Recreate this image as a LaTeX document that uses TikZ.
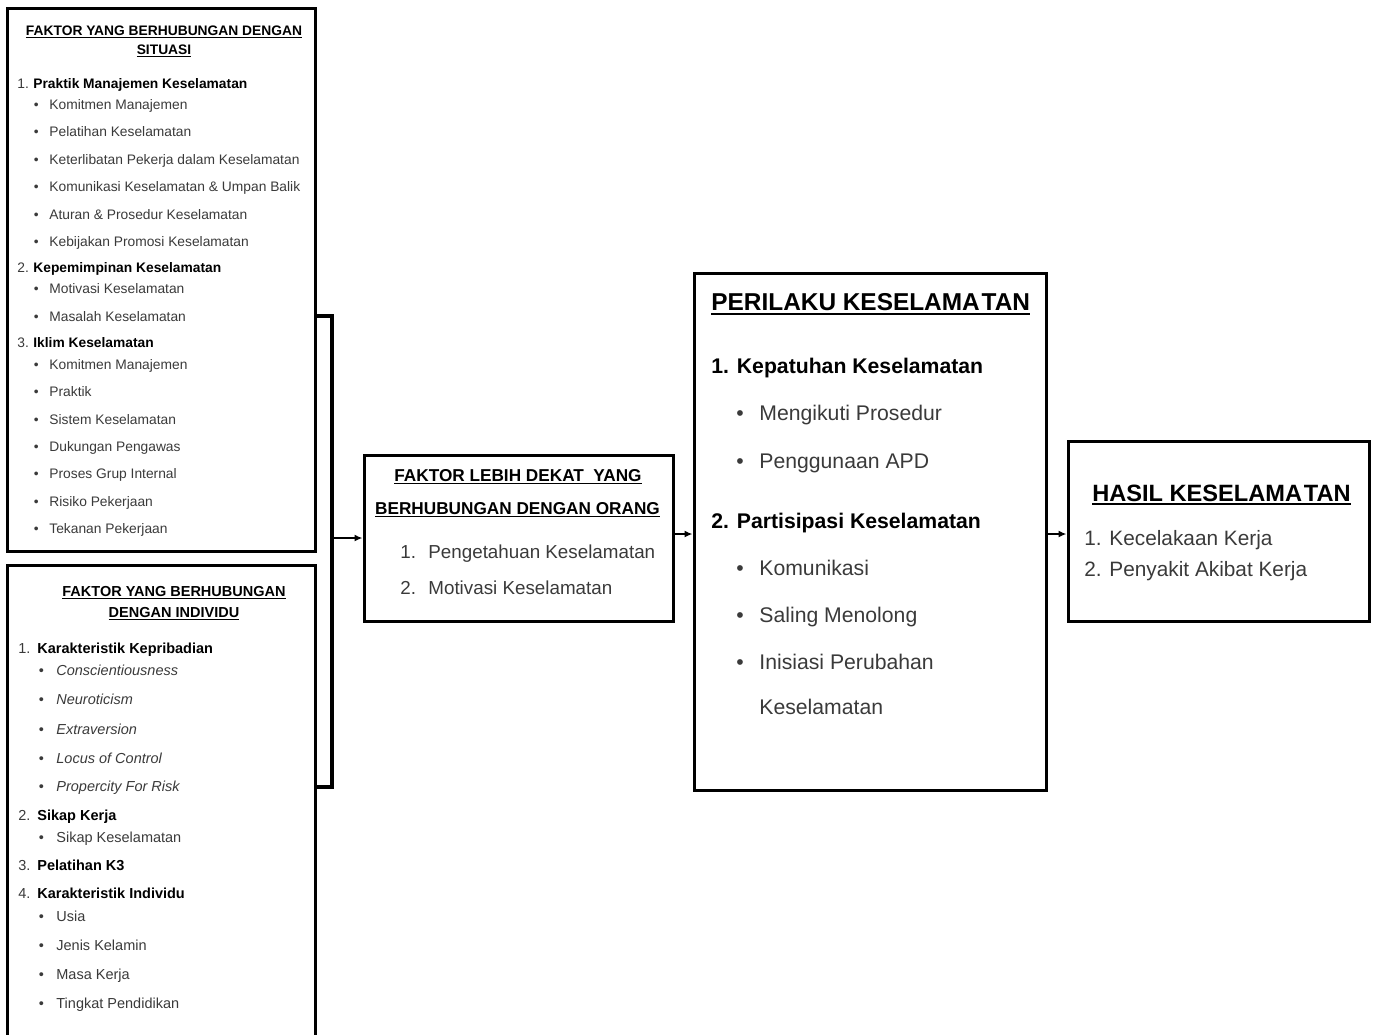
\documentclass[tikz,border=0pt]{standalone}
\usepackage{fontspec}
\setmainfont{Liberation Sans}
\usetikzlibrary{arrows.meta}

\definecolor{itemgray}{HTML}{3A3A3A}

% underlined title text
\newcommand{\ulined}[2][0.45pt]{\leavevmode\setbox0=\hbox{#2}\rlap{\copy0}\rule[-0.16em]{\wd0}{#1}}

% font sizes of the five boxes
\newcommand{\fsA}{\fontsize{6.9}{8}\selectfont}
\newcommand{\fsB}{\fontsize{7.25}{8.5}\selectfont}
\newcommand{\fsC}{\fontsize{9.4}{11}\selectfont}
\newcommand{\fsCt}{\fontsize{8.6}{10}\selectfont}
\newcommand{\fsD}{\fontsize{10.6}{12}\selectfont}
\newcommand{\fsDt}{\fontsize{12.2}{14}\selectfont}
\newcommand{\fsE}{\fontsize{10.4}{12}\selectfont}
\newcommand{\fsEt}{\fontsize{11.8}{14}\selectfont}

\tikzset{
  box/.style={draw, line width=1.5pt, inner sep=0pt},
  line/.style={anchor=west, inner sep=0pt, text depth=0pt, text=itemgray},
  fA/.style={line, font=\fsA, text height=4.9pt},
  hA/.style={fA, font=\fsA\bfseries, text=black},
  fB/.style={line, font=\fsB, text height=5.2pt},
  hB/.style={fB, font=\fsB\bfseries, text=black},
  fC/.style={line, font=\fsC, text height=6.7pt},
  hC/.style={line, font=\fsCt\bfseries, text height=6.2pt, text=black, anchor=center},
  fD/.style={line, font=\fsD, text height=7.6pt},
  hD/.style={fD, font=\fsD\bfseries, text=black},
  tD/.style={line, font=\fsDt\bfseries, text height=8.7pt, text=black},
  fE/.style={line, font=\fsE, text height=7.45pt},
  tE/.style={line, font=\fsEt\bfseries, text height=8.45pt, text=black, anchor=center},
  conn/.style={line width=1pt, -{Latex[length=4pt,width=3.5pt]}}
}

\begin{document}
\begin{tikzpicture}[x=0.5pt, y=-0.5pt]

\useasboundingbox (0,0) rectangle (1375,1034);

% Draw the boxes
\node[box, minimum width=154pt, minimum height=271.5pt] (situasi) at (161,279.5) {};
\node[box, minimum width=154pt, minimum height=242.5pt] (individu) at (161,807.5) {};
\node[box, minimum width=154.5pt, minimum height=83pt] (orang) at (518.5,538) {};
\node[box, minimum width=176pt, minimum height=258.5pt] (perilaku) at (870,531.5) {};
\node[box, minimum width=150.5pt, minimum height=90pt] (hasil) at (1218.5,531) {};

% Situation factors
\node[hA, anchor=center] (titleA1) at (164,31) {\ulined{FAKTOR YANG BERHUBUNGAN DENGAN}};
\node[hA, anchor=center] (titleA2) at (164,50) {\ulined{SITUASI}};
\foreach \y/\n/\t in {84/1/Praktik Manajemen Keselamatan, 268/2/Kepemimpinan Keselamatan, 343/3/Iklim Keselamatan}
{
  \node[fA] (numA\n) at (17,\y) {\n.};
  \node[hA] (headA\n) at (33,\y) {\t};
}
\foreach \y/\t in {105/Komitmen Manajemen, 132/Pelatihan Keselamatan, 160/Keterlibatan Pekerja dalam Keselamatan, 187/Komunikasi Keselamatan \& Umpan Balik, 215/Aturan \& Prosedur Keselamatan, 242/Kebijakan Promosi Keselamatan, 289/Motivasi Keselamatan, 317/Masalah Keselamatan, 365/Komitmen Manajemen, 392/Praktik, 420/Sistem Keselamatan, 447/Dukungan Pengawas, 474/Proses Grup Internal, 502/Risiko Pekerjaan, 529/Tekanan Pekerjaan}
{
  \node[fA] (dotA\y) at (33.5,\y) {\textbullet};
  \node[fA] (itemA\y) at (49,\y) {\t};
}

% Individual factors
\node[hB, anchor=center] (titleB1) at (174,591) {\ulined{FAKTOR YANG BERHUBUNGAN}};
\node[hB, anchor=center] (titleB2) at (174,612) {\ulined{DENGAN INDIVIDU}};
\foreach \y/\n/\t in {648/1/Karakteristik Kepribadian, 815/2/Sikap Kerja, 865/3/Pelatihan K3, 893/4/Karakteristik Individu}
{
  \node[fB] (numB\n) at (18,\y) {\n.};
  \node[hB] (headB\n) at (37,\y) {\t};
}
\foreach \y/\t in {670/Conscientiousness, 699/Neuroticism, 729/Extraversion, 758/Locus of Control, 786/Propercity For Risk}
{
  \node[fB] (dotB\y) at (38.5,\y) {\textbullet};
  \node[fB] (itemB\y) at (56,\y) {\textit{\t}};
}
\foreach \y/\t in {837/Sikap Keselamatan, 916/Usia, 945/Jenis Kelamin, 974/Masa Kerja, 1003/Tingkat Pendidikan}
{
  \node[fB] (dotB\y) at (38.5,\y) {\textbullet};
  \node[fB] (itemB\y) at (56,\y) {\t};
}

% Proximal person factors
\node[hC] (titleC1) at (518,475) {\ulined{FAKTOR LEBIH DEKAT\ \ YANG}};
\node[hC] (titleC2) at (517.5,508) {\ulined{BERHUBUNGAN DENGAN ORANG}};
\foreach \y/\n/\t in {552/1/Pengetahuan Keselamatan, 588/2/Motivasi Keselamatan}
{
  \node[fC] (numC\n) at (400,\y) {\n.};
  \node[fC] (itemC\n) at (428,\y) {\t};
}

% Safety behaviour
\node[tD] (titleD) at (711,302) {\ulined[0.9pt]{PERILAKU KESELAMA\kern0.08em TAN}};
\node[hD] (headD1) at (711,366) {1. Kepatuhan Keselamatan};
\node[hD] (headD2) at (711,521) {2. Partisipasi Keselamatan};
\foreach \y/\t in {413/Mengikuti Prosedur, 461/Penggunaan APD, 568/Komunikasi, 615/Saling Menolong, 662/Inisiasi Perubahan}
{
  \node[fD] (dotD\y) at (736,\y) {\textbullet};
  \node[fD] (itemD\y) at (759,\y) {\t};
}
\node[fD] (itemD707) at (759,707) {Keselamatan};

% Safety outcomes
\node[tE] (titleE) at (1221.5,493) {\ulined[0.9pt]{HASIL KESELAMA\kern0.08em TAN}};
\node[fE] (itemE1) at (1084,538) {1. Kecelakaan Kerja};
\node[fE] (itemE2) at (1084,569) {2. Penyakit Akibat Kerja};

% Bracket joining the two factor boxes
\coordinate (bendA) at (332,316);
\coordinate (bendB) at (332,787);
\draw[line width=1.8pt] (situasi.east |- bendA) -- (bendA) -- (bendB) -- (individu.east |- bendB);

% Arrows
\draw[conn] (bendA |- orang.west) -- (orang.west);
\draw[conn] (orang.east |- 0,534) -- (perilaku.west |- 0,534);
\draw[conn] (perilaku.east |- 0,534) -- (hasil.west |- 0,534);

\end{tikzpicture}
\end{document}
